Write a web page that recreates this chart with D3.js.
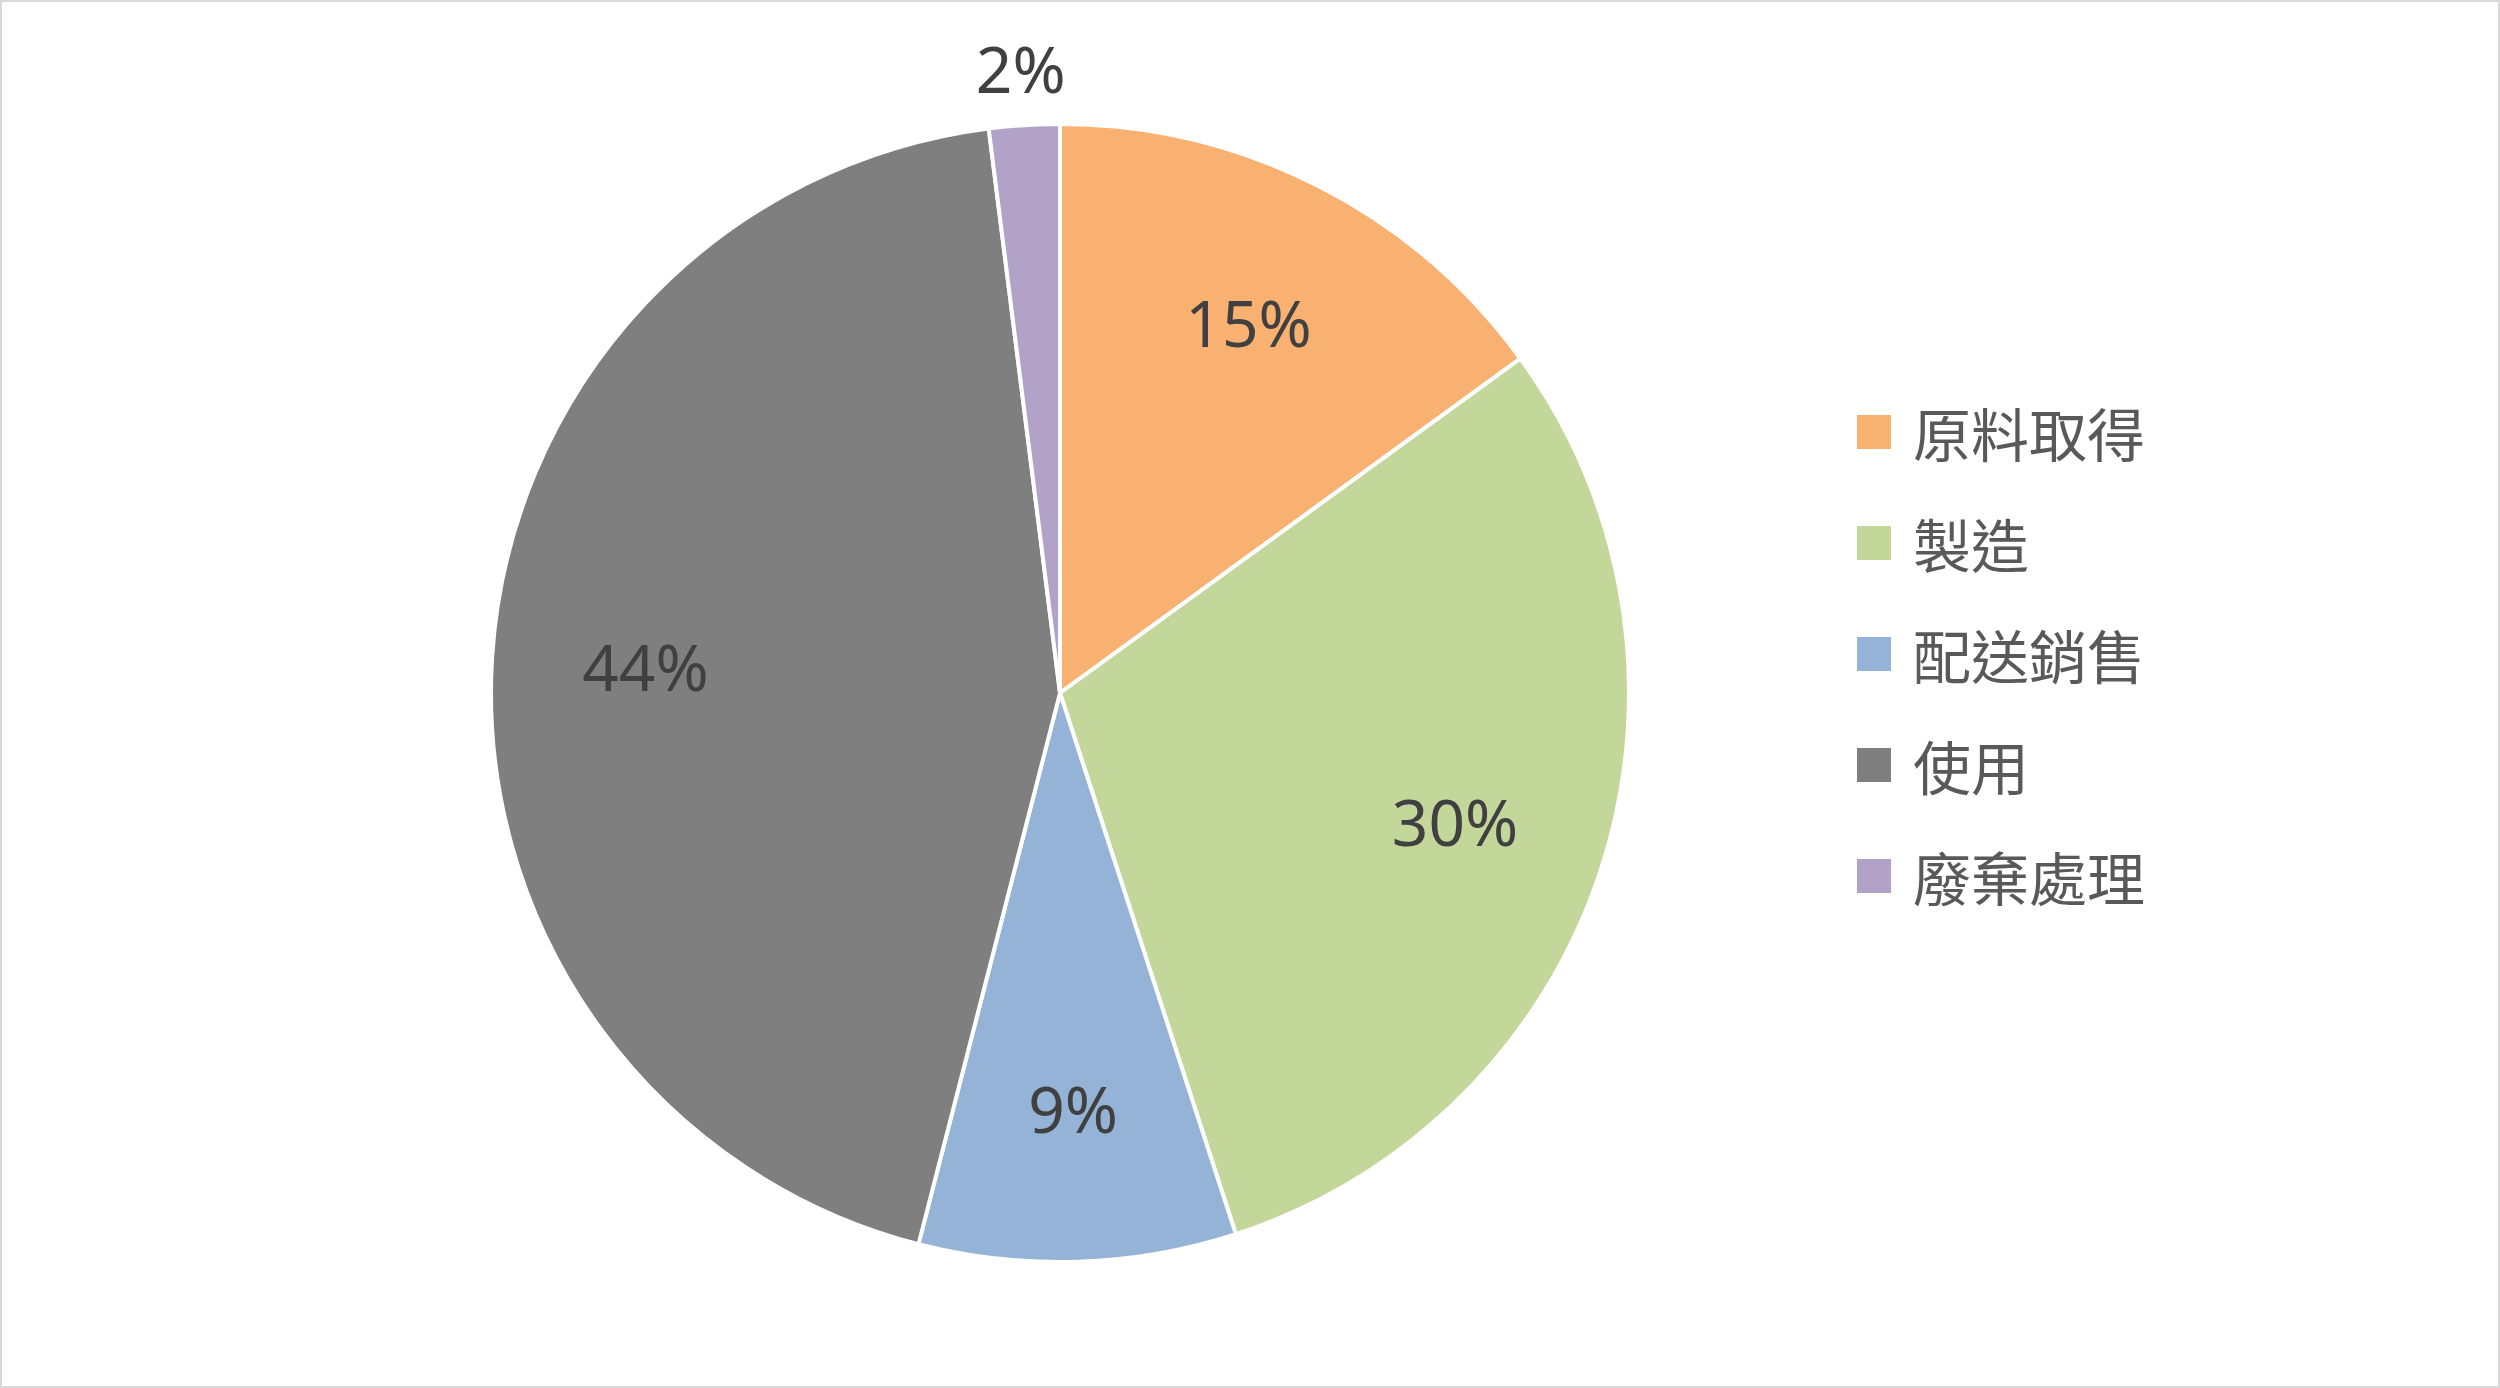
<!DOCTYPE html>
<html><head><meta charset="utf-8">
<script src="https://cdn.jsdelivr.net/npm/d3@7"></script>
<style>body{margin:0;background:#fff}</style>
</head><body>
<script>
const categories = ["原料取得", "製造", "配送銷售", "使用", "廢棄處理"];
const values = [15, 30, 9, 44, 2];
const colors = ["#F9B172", "#C4D79B", "#95B3D7", "#7F7F7F", "#B3A2C7"];

const W = 2500, H = 1388;
const svg = d3.select("body").append("svg").attr("width", W).attr("height", H);
svg.append("rect").attr("x", 1).attr("y", 1).attr("width", W - 2).attr("height", H - 2)
  .attr("fill", "#fff").attr("stroke", "#d9d9d9").attr("stroke-width", 2);

const cx = 1060, cy = 693, r = 569;
const pie = d3.pie().sort(null)(values);
const arc = d3.arc().innerRadius(0).outerRadius(r);
const g = svg.append("g").attr("transform", `translate(${cx},${cy})`);

g.selectAll("path").data(pie).join("path")
  .attr("d", arc)
  .attr("fill", (d, i) => colors[i])
  .attr("stroke", "#fff").attr("stroke-width", 4);

const inner = d3.arc().innerRadius(r * 0.73).outerRadius(r * 0.73);
const outer = d3.arc().innerRadius(r * 1.1).outerRadius(r * 1.1);
g.selectAll("text").data(pie).join("text")
  .attr("transform", d => `translate(${(d.data < 5 ? outer : inner).centroid(d)})`)
  .attr("text-anchor", "middle").attr("dominant-baseline", "central")
  .attr("font-family", "Noto Sans, sans-serif").attr("font-size", 64)
  .attr("fill", "#404040")
  .text(d => d.data + "%");

const leg = svg.append("g").attr("transform", "translate(1857,432)");
const item = leg.selectAll("g").data(categories).join("g")
  .attr("transform", (d, i) => `translate(0,${i * 111})`);
item.append("rect").attr("x", 0).attr("y", -17).attr("width", 34).attr("height", 34)
  .attr("fill", (d, i) => colors[i]);
item.append("text").attr("x", 56).attr("y", 0).attr("dominant-baseline", "central")
  .attr("font-family", "Noto Sans CJK TC, sans-serif").attr("font-size", 58)
  .attr("fill", "#595959").text(d => d);
</script>
</body></html>
